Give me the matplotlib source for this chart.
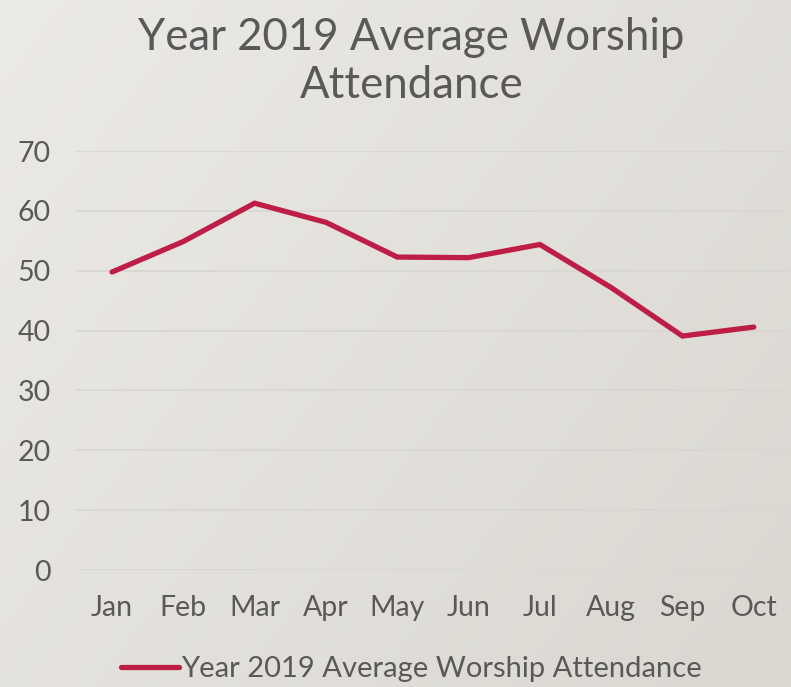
import matplotlib
matplotlib.use("Agg")
import matplotlib.pyplot as plt
import numpy as np

months = ["Jan", "Feb", "Mar", "Apr", "May", "Jun", "Jul", "Aug", "Sep", "Oct"]
attendance = [49.8, 54.9, 61.3, 58.1, 52.3, 52.2, 54.4, 47.2, 39.1, 40.6]
yticks = [0, 10, 20, 30, 40, 50, 60, 70]
series_name = "Year 2019 Average Worship Attendance"
title = "Year 2019 Average Worship\nAttendance"

plt.rcParams['font.family'] = ['Lato', 'DejaVu Sans']
text_color = "#595959"
line_color = "#be1d45"

fig = plt.figure(figsize=(7.91, 6.87), dpi=100)

# background gradient
bg = fig.add_axes([0, 0, 1, 1], zorder=-10)
h, w = 200, 200
yy, xx = np.mgrid[0:h, 0:w]
t = (xx / w * 0.6 + yy / h * 0.4)
c0 = np.array([0xec, 0xea, 0xe6]) / 255
c1 = np.array([0xda, 0xd7, 0xd1]) / 255
img = c0[None, None, :] * (1 - t[..., None]) + c1[None, None, :] * t[..., None]
bg.imshow(img, aspect='auto', extent=[0, 1, 0, 1], origin='upper')
bg.axis('off')

ax = fig.add_axes([0.0966, 0.1703, 0.9014, 0.6097])
ax.set_facecolor('none')
x = np.arange(len(months))
ax.plot(x, attendance, color=line_color, lw=3.8, solid_capstyle='round',
        solid_joinstyle='miter', label=series_name)
ax.set_xlim(-0.5, len(months) - 0.5)
ax.set_ylim(0, 70)
ax.set_yticks(yticks)
ax.set_xticks(x)
ax.set_xticklabels(months)
ax.grid(axis='y', color='#d8d6d3', lw=1.2)
ax.set_axisbelow(True)
for s in ax.spines.values():
    s.set_visible(False)
ax.tick_params(axis='both', length=0, labelsize=20.5, colors=text_color)
ax.tick_params(axis='y', pad=18.5)
ax.tick_params(axis='x', pad=18)

fig.text(0.52, 0.975, title, ha='center', va='top', fontsize=31.5,
         color=text_color, linespacing=1.22)

leg = fig.legend(loc='center', bbox_to_anchor=(0.52, 0.026), frameon=False,
                 fontsize=21, handlelength=2.0, handletextpad=0.05)
for t_ in leg.get_texts():
    t_.set_color(text_color)

fig.savefig("out.png", dpi=100)
